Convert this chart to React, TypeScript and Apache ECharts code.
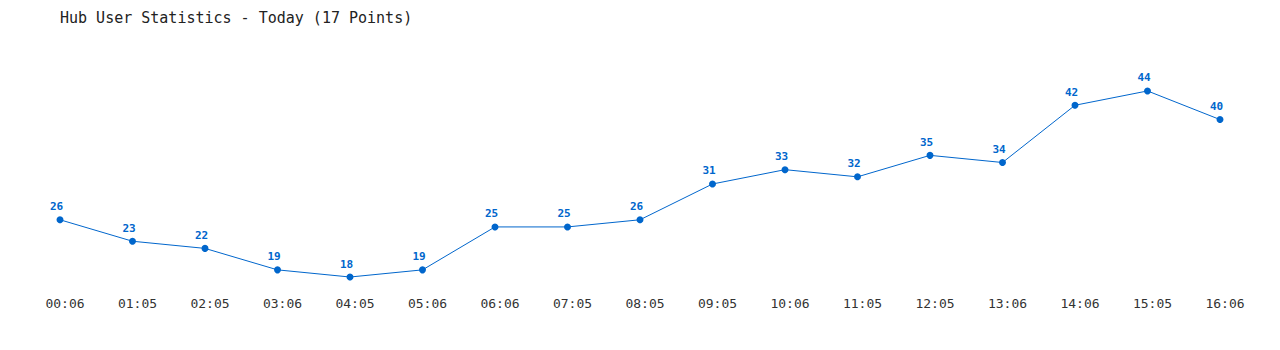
import React, { useEffect, useRef } from "react";
import * as echarts from "echarts";

const times = ["00:06", "01:05", "02:05", "03:06", "04:05", "05:06", "06:06", "07:05", "08:05", "09:05", "10:06", "11:05", "12:05", "13:06", "14:06", "15:05", "16:06"];
const users = [26, 23, 22, 19, 18, 19, 25, 25, 26, 31, 33, 32, 35, 34, 42, 44, 40];
const titleText = "Hub User Statistics - Today (17 Points)";

const MONO = "'DejaVu Sans Mono', 'Liberation Mono', monospace";

export default function App() {
  const ref = useRef<HTMLDivElement>(null);
  useEffect(() => {
    if (!ref.current) return;
    const chart = echarts.init(ref.current, undefined, { renderer: "svg" });
    chart.setOption({
      animation: false,
      backgroundColor: "#ffffff",
      title: {
        text: titleText,
        left: 55,
        top: 5,
        textStyle: { fontFamily: MONO, fontSize: 15, fontWeight: "normal", color: "#222222" },
      },
      grid: { left: 60, right: 60, top: 48, bottom: 51.5 },
      xAxis: {
        type: "category",
        data: times,
        boundaryGap: false,
        axisLine: { show: false },
        axisTick: { show: false },
        splitLine: { show: false },
        axisLabel: { fontFamily: MONO, fontSize: 13, color: "#333333", margin: 5, interval: 0, verticalAlign: "middle", padding: [0, 0, 0, 10], lineHeight: 13 },
      },
      yAxis: {
        type: "value",
        min: 15,
        max: 50,
        show: false,
        splitLine: { show: false },
      },
      series: [
        {
          type: "line",
          data: users,
          symbol: "circle",
          symbolSize: 7,
          lineStyle: { color: "#0066cc", width: 1 },
          itemStyle: { color: "#0066cc" },
          label: {
            show: true,
            position: "top",
            distance: 4,
            offset: [-3.5, 0],
            fontFamily: MONO,
            fontSize: 11,
            fontWeight: "bold",
            color: "#0066cc",
          },
        },
      ],
    });
    return () => chart.dispose();
  }, []);
  return <div ref={ref} style={{ position: "fixed", left: 0, top: 0, width: 1280, height: 350 }} />;
}
